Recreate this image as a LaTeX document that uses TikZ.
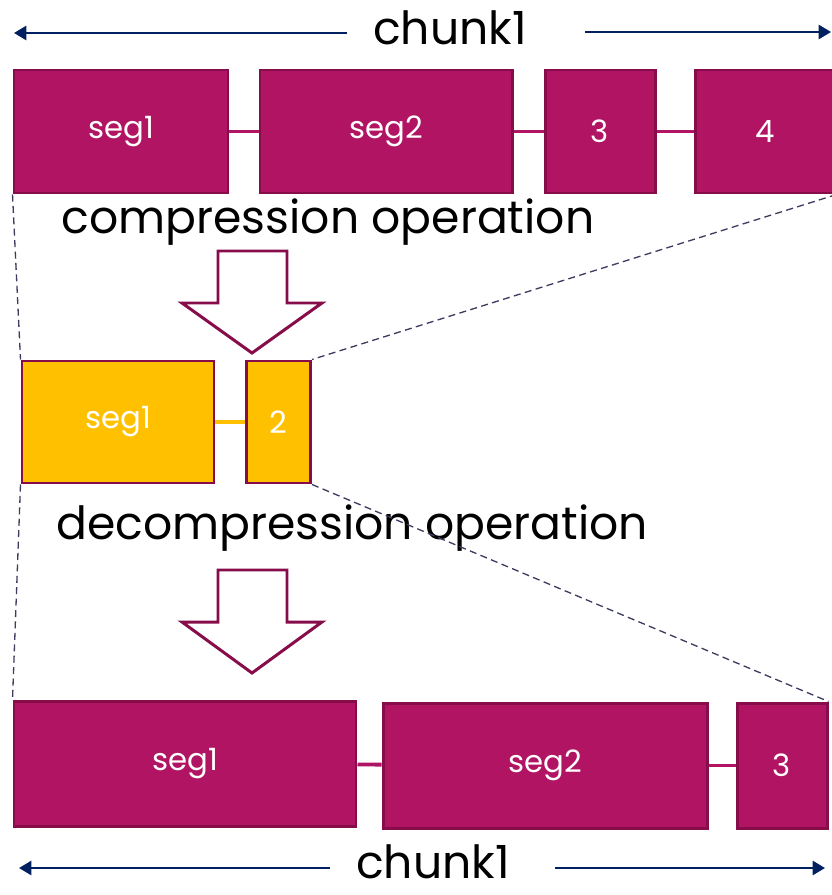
\documentclass[tikz,border=0pt]{standalone}
\usepackage{fontspec}
\setmainfont{Poppins}
\usepackage{tikz}
\usetikzlibrary{arrows.meta}

\definecolor{segred}{RGB}{176,20,99}
\definecolor{segedge}{RGB}{134,12,74}
\definecolor{segyellow}{RGB}{255,192,0}
\definecolor{chunkblue}{RGB}{0,32,96}
\definecolor{guide}{RGB}{60,60,96}

\tikzset{
  seg/.style={rectangle, draw=segedge, fill=segred, line width=1.7pt, inner sep=0pt,
    minimum height=123*0.02cm, text=white, font=\fontsize{17.5}{20}\selectfont},
  cseg/.style={seg, fill=segyellow, minimum height=122*0.02cm},
  link/.style={segred, line width=2.2pt},
  clink/.style={segyellow, line width=2.2pt},
  chunkarr/.style={chunkblue, line width=1.3pt, -{Triangle[width=8pt,length=7pt]}},
  guideline/.style={guide, line width=0.75pt, dash pattern=on 4pt off 2.5pt},
  hollow/.style={draw=segedge, fill=white, line width=1.7pt, line join=miter},
  bigtext/.style={font=\fontsize{26}{30}\selectfont},
  chunktext/.style={bigtext, anchor=base, inner sep=1pt}
}

\begin{document}
\begin{tikzpicture}[x=0.02cm, y=-0.02cm]
  \useasboundingbox (0,0) rectangle (831,895);

  % top chunk
  \node[chunktext] (ctop) at (450,45) {chunk1};
  \coordinate (ctl) at (347,33);
  \coordinate (ctle) at (14,33);
  \coordinate (ctr) at (585,32);
  \coordinate (ctre) at (831,32);
  \draw[chunkarr] (ctl) -- (ctle);
  \draw[chunkarr] (ctr) -- (ctre);

  \node[seg, minimum width=214*0.02cm] (t1) at (121,131.5) {seg1};
  \node[seg, minimum width=252*0.02cm] (t2) at (386,131.5) {seg2};
  \node[seg, minimum width=110*0.02cm] (t3) at (600,131.5) {3};
  \node[seg, minimum width=140*0.02cm] (t4) at (765,131.5) {4};
  \draw[link] (t1) -- (t2);
  \draw[link] (t2) -- (t3);
  \draw[link] (t3) -- (t4);

  \node[bigtext] (comp) at (328,222) {compression operation};
  \draw[hollow] (218,251) -- (287,251) -- (287,303) -- (322,303) -- (252,353)
    -- (182,303) -- (218,303) -- cycle;

  % compressed chunk
  \node[cseg, minimum width=192*0.02cm] (y1) at (118,422) {seg1};
  \node[cseg, minimum width=64*0.02cm] (y2) at (278.5,422) {2};
  \draw[clink] (y1) -- (y2);

  \node[bigtext] (decomp) at (352,528) {decompression operation};
  \draw[hollow] (218,570) -- (287,570) -- (287,622) -- (322,622) -- (252,673)
    -- (182,622) -- (218,622) -- cycle;

  % restored chunk
  \node[seg, minimum width=342*0.02cm, minimum height=125*0.02cm] (b1) at (185,763.5) {seg1};
  \node[seg, minimum width=324*0.02cm, minimum height=125*0.02cm] (b2) at (545,765.5) {seg2};
  \node[seg, minimum width=90*0.02cm, minimum height=125*0.02cm] (b3) at (782,765.5) {3};
  \draw[link] (b1) -- (b2);
  \draw[link] (b2) -- (b3);

  \node[chunktext] (cbot) at (433,878) {chunk1};
  \coordinate (cbl) at (330,868);
  \coordinate (cble) at (19,868);
  \coordinate (cbr) at (555,868);
  \coordinate (cbre) at (825,868);
  \draw[chunkarr] (cbl) -- (cble);
  \draw[chunkarr] (cbr) -- (cbre);

  % guides
  \draw[guideline] (t1.south west) -- (y1.north west);
  \draw[guideline] (t4.south east) -- (y2.north east);
  \draw[guideline] (y1.south west) -- (b1.north west);
  \draw[guideline] (y2.south east) -- (b3.north east);
\end{tikzpicture}
\end{document}
